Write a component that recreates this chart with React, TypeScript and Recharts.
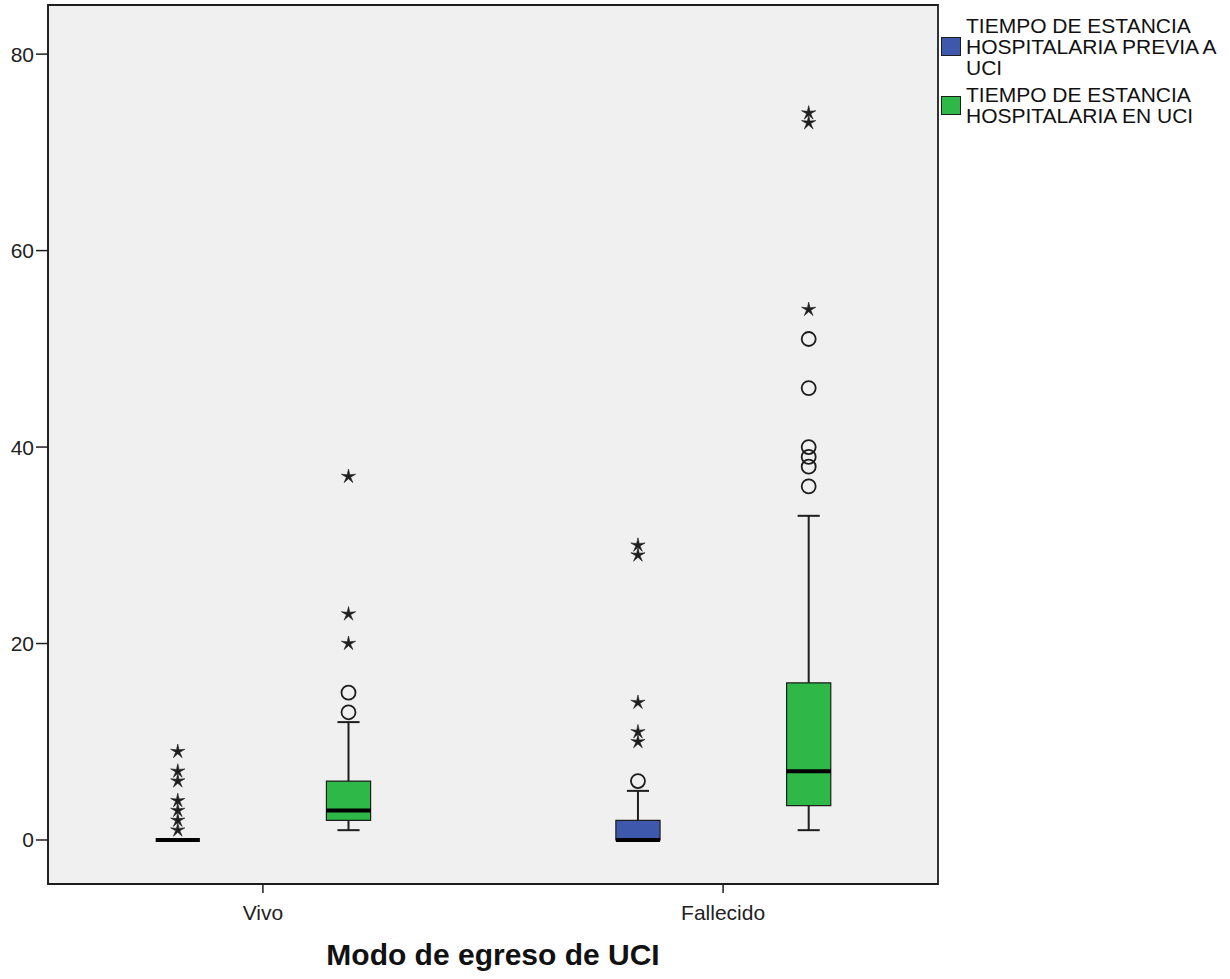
import React from "react";
import {
  ComposedChart,
  XAxis,
  YAxis,
  Scatter,
  ReferenceArea,
  ReferenceLine,
} from "recharts";

const groups = ["Vivo", "Fallecido"];
const seriesNames = [
  "TIEMPO DE ESTANCIA HOSPITALARIA PREVIA A UCI",
  "TIEMPO DE ESTANCIA HOSPITALARIA EN UCI",
];
const legendLines = [
  ["TIEMPO DE ESTANCIA", "HOSPITALARIA PREVIA A", "UCI"],
  ["TIEMPO DE ESTANCIA", "HOSPITALARIA EN UCI"],
];
const seriesColors = ["#3e58ac", "#2eb848"];
const yTicks = [0, 20, 40, 60, 80];

// box stats per group (Vivo, Fallecido)
const previaMin = [0, 0];
const previaQ1 = [0, 0];
const previaMedian = [0, 0];
const previaQ3 = [0, 2];
const previaMax = [0, 5];
const previaOutliers = [[], [6]];
const previaExtremes = [
  [1, 2, 3, 4, 6, 7, 9],
  [10, 11, 14, 29, 30],
];

const uciMin = [1, 1];
const uciQ1 = [2, 3.5];
const uciMedian = [3, 7];
const uciQ3 = [6, 16];
const uciMax = [12, 33];
const uciOutliers = [
  [13, 15],
  [36, 38, 39, 40, 46, 51],
];
const uciExtremes = [
  [20, 23, 37],
  [54, 73, 74],
];

const X_DOMAIN: [number, number] = [-0.467, 1.467];
const Y_DOMAIN: [number, number] = [-4.48, 85];
const DODGE = [-0.185, 0.186];
const HALF_BOX = 0.048;
const HALF_CAP = 0.024;
const INK = "#1e1e1e";

const stats = [
  { min: previaMin, q1: previaQ1, med: previaMedian, q3: previaQ3, max: previaMax, out: previaOutliers, ext: previaExtremes },
  { min: uciMin, q1: uciQ1, med: uciMedian, q3: uciQ3, max: uciMax, out: uciOutliers, ext: uciExtremes },
];

const boxes = stats.flatMap((s, si) =>
  groups.map((g, gi) => ({
    key: `${si}-${gi}`,
    x: gi + DODGE[si],
    color: seriesColors[si],
    min: s.min[gi],
    q1: s.q1[gi],
    med: s.med[gi],
    q3: s.q3[gi],
    max: s.max[gi],
  }))
);

const circlePoints = stats.flatMap((s, si) =>
  s.out.flatMap((vals, gi) => vals.map((v) => ({ x: gi + DODGE[si], y: v })))
);
const starPoints = stats.flatMap((s, si) =>
  s.ext.flatMap((vals, gi) => vals.map((v) => ({ x: gi + DODGE[si], y: v })))
);

const Circle = (props: any) => {
  const { cx, cy } = props;
  return <circle cx={cx} cy={cy} r={7} fill="none" stroke={INK} strokeWidth={1.8} />;
};

const Star = (props: any) => {
  const { cx, cy } = props;
  const pts: string[] = [];
  for (let i = 0; i < 10; i++) {
    const r = i % 2 === 0 ? 7.5 : 2.2;
    const a = -Math.PI / 2 + (i * Math.PI) / 5;
    pts.push(`${cx + r * Math.cos(a)},${cy + r * Math.sin(a)}`);
  }
  return <polygon points={pts.join(" ")} fill={INK} stroke={INK} strokeWidth={0.6} />;
};

const font = "'Liberation Sans', Arial, sans-serif";

export default function App() {
  return (
    <div
      style={{
        position: "absolute",
        left: 0,
        top: 0,
        width: 1230,
        height: 979,
        background: "#fff",
        fontFamily: font,
      }}
    >
      <ComposedChart
        width={1230}
        height={979}
        margin={{ top: 5, right: 292, bottom: 0, left: 8 }}
      >
        <XAxis
          type="number"
          dataKey="x"
          domain={X_DOMAIN}
          ticks={[0, 1]}
          tickFormatter={(v: number) => groups[v] ?? ""}
          allowDataOverflow
          height={95}
          tickSize={9}
          tickMargin={12}
          axisLine={{ stroke: INK, strokeWidth: 1.5 }}
          tickLine={{ stroke: INK, strokeWidth: 1.5 }}
          tick={{ fill: "#222", fontSize: 21, fontFamily: font }}
        />
        <YAxis
          type="number"
          dataKey="y"
          domain={Y_DOMAIN}
          ticks={yTicks}
          allowDataOverflow
          width={40}
          tickSize={12}
          tickMargin={2}
          axisLine={{ stroke: INK, strokeWidth: 1.5 }}
          tickLine={{ stroke: INK, strokeWidth: 1.5 }}
          tick={{ fill: "#222", fontSize: 21, fontFamily: font }}
        />
        <ReferenceArea
          x1={X_DOMAIN[0]}
          x2={X_DOMAIN[1]}
          y1={Y_DOMAIN[0]}
          y2={Y_DOMAIN[1]}
          fill="#f0f0f0"
          fillOpacity={1}
          stroke={INK}
          strokeWidth={1.8}
          ifOverflow="visible"
        />
        {boxes.map((b) => (
          <ReferenceLine
            key={`wu-${b.key}`}
            segment={[
              { x: b.x, y: b.q3 },
              { x: b.x, y: b.max },
            ]}
            stroke={INK}
            strokeWidth={2}
            ifOverflow="visible"
          />
        ))}
        {boxes.map((b) => (
          <ReferenceLine
            key={`wl-${b.key}`}
            segment={[
              { x: b.x, y: b.min },
              { x: b.x, y: b.q1 },
            ]}
            stroke={INK}
            strokeWidth={2}
            ifOverflow="visible"
          />
        ))}
        {boxes.map((b) => (
          <ReferenceLine
            key={`cu-${b.key}`}
            segment={[
              { x: b.x - HALF_CAP, y: b.max },
              { x: b.x + HALF_CAP, y: b.max },
            ]}
            stroke={INK}
            strokeWidth={2}
            ifOverflow="visible"
          />
        ))}
        {boxes.map((b) => (
          <ReferenceLine
            key={`cl-${b.key}`}
            segment={[
              { x: b.x - HALF_CAP, y: b.min },
              { x: b.x + HALF_CAP, y: b.min },
            ]}
            stroke={INK}
            strokeWidth={2}
            ifOverflow="visible"
          />
        ))}
        {boxes.map((b) => (
          <ReferenceArea
            key={`box-${b.key}`}
            x1={b.x - HALF_BOX}
            x2={b.x + HALF_BOX}
            y1={b.q1}
            y2={b.q3}
            fill={b.color}
            fillOpacity={1}
            stroke={INK}
            strokeWidth={1.2}
            ifOverflow="visible"
          />
        ))}
        {boxes.map((b) => (
          <ReferenceLine
            key={`med-${b.key}`}
            segment={[
              { x: b.x - HALF_BOX, y: b.med },
              { x: b.x + HALF_BOX, y: b.med },
            ]}
            stroke="#000"
            strokeWidth={4}
            ifOverflow="visible"
          />
        ))}
        <Scatter
          name="atipicos"
          data={circlePoints}
          dataKey="y"
          shape={<Circle />}
          isAnimationActive={false}
        />
        <Scatter
          name="extremos"
          data={starPoints}
          dataKey="y"
          shape={<Star />}
          isAnimationActive={false}
        />
      </ComposedChart>

      <div style={{ position: "absolute", left: 941, top: 15 }}>
        {seriesNames.map((name, i) => (
          <div
            key={name}
            title={name}
            style={{ display: "flex", alignItems: "center", marginBottom: 6 }}
          >
            <div
              style={{
                width: 20,
                height: 19,
                background: seriesColors[i],
                border: `1.5px solid ${INK}`,
                boxSizing: "border-box",
                marginRight: 5,
                flexShrink: 0,
              }}
            />
            <div style={{ fontSize: 21, lineHeight: "21px", color: "#111" }}>
              {legendLines[i].map((l) => (
                <div key={l}>{l}</div>
              ))}
            </div>
          </div>
        ))}
      </div>

      <div
        style={{
          position: "absolute",
          left: 48,
          width: 890,
          top: 940,
          textAlign: "center",
          fontSize: 30,
          fontWeight: "bold",
          lineHeight: 1,
          color: "#111",
        }}
      >
        Modo de egreso de UCI
      </div>
    </div>
  );
}
